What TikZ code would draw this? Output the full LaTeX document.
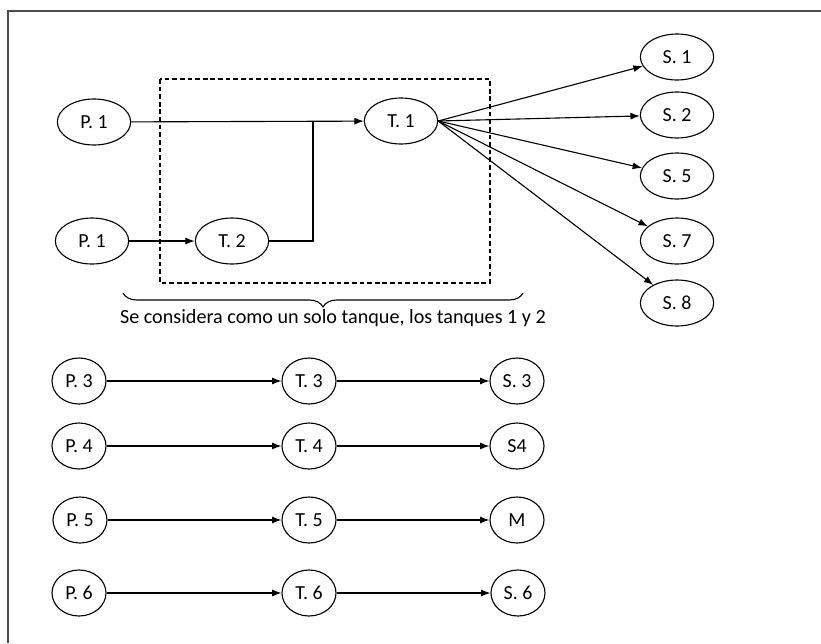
\documentclass[tikz,border=0pt]{standalone}
\usepackage{fontspec}
\setmainfont{Carlito}
\usetikzlibrary{shapes.geometric, arrows.meta, decorations.pathreplacing}

\begin{document}
\begin{tikzpicture}[x=0.03cm, y=-0.03cm, line width=0.95pt, >={Latex[length=8pt,width=6pt]},
        wide/.style={draw, ellipse, inner sep=0pt, minimum width=2.2cm, minimum height=1.38cm, font=\fontsize{17}{20}\selectfont},
        narrow/.style={wide, minimum width=1.62cm}]
        \useasboundingbox (0,0) rectangle (821,643);
        \draw[line width=1.3pt, black!70] (821,11) -- (8,11) -- (8,643);
        % tanques 1 y 2
        \node[wide] (p1a) at (94,122) {P. 1};
        \node[wide] (p1b) at (92,241) {P. 1};
        \node[wide] (t2) at (232,241) {T. 2};
        \node[wide] (t1) at (401,121) {T. 1};
        \coordinate (jn) at (313,121);
        \draw[->] (p1a) -- (t1);
        \draw[->] (p1b) -- (t2);
        \draw (t2.east) -| (jn);
        \draw[dash pattern=on 4pt off 2.5pt] (160,79) rectangle (490,283);
        \node[wide] (s1) at (677,57) {S. 1};
        \node[wide] (s2) at (677,115) {S. 2};
        \node[wide] (s5) at (677,176) {S. 5};
        \node[wide] (s7) at (677,241) {S. 7};
        \node[wide] (s8) at (677,303) {S. 8};
        \draw[->] (t1.east) -- (s1);
        \draw[->] (t1.east) -- (s2);
        \draw[->] (t1.east) -- (s5);
        \draw[->] (t1.east) -- (s7);
        \draw[->] (t1.east) -- (s8);
        \coordinate (bl) at (123,293);
        \coordinate (br) at (523,293);
        \draw[decorate, decoration={brace, mirror, amplitude=14*0.03cm}] (bl) -- (br);
        \node[font=\fontsize{17.2}{20}\selectfont] (cap) at (333,318) {Se considera como un solo tanque, los tanques 1 y 2};
        % resto de tanques
        \node[narrow] (p3) at (79,381) {P. 3};
        \node[narrow] (t3) at (309,381) {T. 3};
        \node[narrow] (s3) at (517,381) {S. 3};
        \draw[->] (p3) -- (t3);
        \draw[->] (t3) -- (s3);
        \node[narrow] (p4) at (79,446) {P. 4};
        \node[narrow] (t4) at (309,446) {T. 4};
        \node[narrow] (s4) at (517,446) {S4};
        \draw[->] (p4) -- (t4);
        \draw[->] (t4) -- (s4);
        \node[narrow] (p5) at (80,520) {P. 5};
        \node[narrow] (t5) at (309,520) {T. 5};
        \node[narrow] (m) at (517,520) {M};
        \draw[->] (p5) -- (t5);
        \draw[->] (t5) -- (m);
        \node[narrow] (p6) at (79,593) {P. 6};
        \node[narrow] (t6) at (309,593) {T. 6};
        \node[narrow] (s6) at (518,593) {S. 6};
        \draw[->] (p6) -- (t6);
        \draw[->] (t6) -- (s6);
    \end{tikzpicture}
\end{document}
